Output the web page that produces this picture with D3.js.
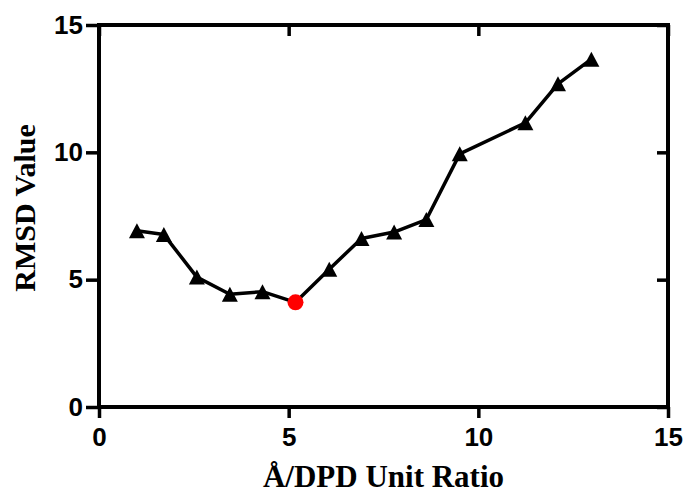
<!DOCTYPE html>
<html>
<head>
<meta charset="utf-8">
<script src="https://cdn.jsdelivr.net/npm/d3@7"></script>
<style>
  html, body { margin: 0; padding: 0; background: #fff; }
  svg { display: block; }
</style>
</head>
<body>
<svg id="chart" width="686" height="495"></svg>
<script>
const ratios = [1.0, 1.71, 2.58, 3.45, 4.31, 5.18, 6.07, 6.92, 7.78, 8.63, 9.51, 11.24, 12.10, 12.98];
const rmsd   = [6.92, 6.77, 5.10, 4.43, 4.53, 4.11, 5.41, 6.62, 6.87, 7.36, 9.94, 11.16, 12.69, 13.66];
const bestIndex = 5;
const xTicks = [0, 5, 10, 15];
const yTicks = [0, 5, 10, 15];
const xTitle = "Å/DPD Unit Ratio";
const yTitle = "RMSD Value";

const svg = d3.select("#chart");
const L = 99, R = 668, T = 25, B = 407;
const x = d3.scaleLinear().domain([0, 15]).range([L, R]);
const y = d3.scaleLinear().domain([0, 15]).range([B, T]);

const tickFont = "'Liberation Sans', Arial, sans-serif";
const titleFont = "'Liberation Serif', 'Times New Roman', serif";

function styleAxis(g, showLabels) {
  g.select(".domain").remove();
  g.selectAll(".tick line").attr("stroke", "#000").attr("stroke-width", 3.5);
  g.selectAll(".tick text")
    .attr("font-family", tickFont).attr("font-weight", "bold")
    .attr("font-size", 26).attr("fill", "#000");
  if (!showLabels) g.selectAll(".tick text").remove();
}

// bottom axis
svg.append("g").attr("transform", `translate(0,${B})`)
  .call(d3.axisBottom(x).tickValues(xTicks).tickFormat(d3.format("d")).tickSize(11).tickPadding(10))
  .call(g => styleAxis(g, true));
// left axis
svg.append("g").attr("transform", `translate(${L},0)`)
  .call(d3.axisLeft(y).tickValues(yTicks).tickFormat(d3.format("d")).tickSize(13).tickPadding(3))
  .call(g => styleAxis(g, true));
// top axis (inward ticks)
svg.append("g").attr("transform", `translate(0,${T})`)
  .call(d3.axisBottom(x).tickValues(xTicks).tickSize(11))
  .call(g => styleAxis(g, false));
// right axis (inward ticks)
svg.append("g").attr("transform", `translate(${R},0)`)
  .call(d3.axisLeft(y).tickValues(yTicks).tickSize(11))
  .call(g => styleAxis(g, false));

// frame
svg.append("rect")
  .attr("x", L).attr("y", T).attr("width", R - L).attr("height", B - T)
  .attr("fill", "none").attr("stroke", "#000").attr("stroke-width", 4);

const pts = ratios.map((r, i) => ({ r, v: rmsd[i], i }));

svg.append("path")
  .datum(pts)
  .attr("fill", "none").attr("stroke", "#000").attr("stroke-width", 3.5)
  .attr("stroke-linejoin", "round")
  .attr("d", d3.line().x(d => x(d.r)).y(d => y(d.v)));

const tri = "M0,-7.5 L8,7.5 L-8,7.5 Z";
svg.append("g").selectAll("path")
  .data(pts.filter(d => d.i !== bestIndex))
  .join("path")
  .attr("d", tri)
  .attr("transform", d => `translate(${x(d.r)},${y(d.v)})`)
  .attr("fill", "#000");

svg.append("circle")
  .datum(pts[bestIndex])
  .attr("cx", d => x(d.r)).attr("cy", d => y(d.v))
  .attr("r", 8).attr("fill", "#ff0000");

// titles
svg.append("text")
  .attr("x", (L + R) / 2).attr("y", 487)
  .attr("text-anchor", "middle")
  .attr("font-family", titleFont).attr("font-weight", "bold")
  .attr("font-size", 31).attr("fill", "#000")
  .text(xTitle);

svg.append("text")
  .attr("transform", `translate(35,${(T + B) / 2 - 8}) rotate(-90)`)
  .attr("text-anchor", "middle")
  .attr("font-family", titleFont).attr("font-weight", "bold")
  .attr("font-size", 30).attr("fill", "#000")
  .text(yTitle);
</script>
</body>
</html>
